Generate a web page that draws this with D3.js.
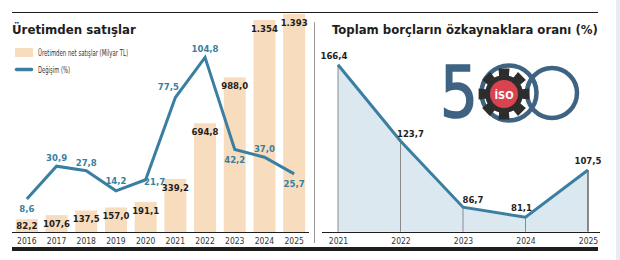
<!DOCTYPE html>
<html><head><meta charset="utf-8">
<script src="https://cdn.jsdelivr.net/npm/d3@7"></script>
<style>
html,body{margin:0;padding:0;background:#fff;}
svg{display:block;}
text{font-family:"Liberation Sans Narrow","DejaVu Sans Condensed",sans-serif;}
</style></head>
<body>
<svg id="chart" width="620" height="260"></svg>
<script>
// ---- Data ----
const years = ["2016","2017","2018","2019","2020","2021","2022","2023","2024","2025"];
const salesValues = [82.2,107.6,137.5,157.0,191.1,339.2,694.8,988.0,1354,1393];
const salesLabels = ["82,2","107,6","137,5","157,0","191,1","339,2","694,8","988,0","1.354","1.393"];
const changeValues = [8.6,30.9,27.8,14.2,21.7,77.5,104.8,42.2,37.0,25.7];
const changeLabels = ["8,6","30,9","27,8","14,2","21,7","77,5","104,8","42,2","37,0","25,7"];
const changeLabelPlace = ["below","above","above","aboveHigh","right","left","above","below","above","below"];

const ratioYears = ["2021","2022","2023","2024","2025"];
const ratioValues = [166.4,123.7,86.7,81.1,107.5];
const ratioLabels = ["166,4","123,7","86,7","81,1","107,5"];
const ratioLabelPlace = ["aboveLeft","right","right","aboveLeft","above"];

const title1 = "Üretimden satışlar";
const title2 = "Toplam borçların özkaynaklara oranı (%)";
const legend1 = "Üretimden net satışlar (Milyar TL)";
const legend2 = "Değişim (%)";

// ---- Styles ----
const BAR = "#f8dcbe", LINE = "#3a7fa1", AREA = "#dce8f0", DARK = "#1e1e1e";

const svg = d3.select("#chart");

// fit a text's font size so its natural width matches a target width
function fitWidth(sel, target, maxSize){
  const n = sel.node();
  const w = n.getComputedTextLength();
  const fs = parseFloat(sel.attr("font-size"));
  sel.attr("font-size", Math.min(maxSize, fs*target/w));
}

// frame
svg.append("rect").attr("x",616).attr("y",0).attr("width",4).attr("height",260).attr("fill","#e6edf3");
svg.append("line").attr("x1",12).attr("x2",598).attr("y1",12.5).attr("y2",12.5).attr("stroke",DARK).attr("stroke-width",1);
svg.append("rect").attr("x",12).attr("y",247).attr("width",586).attr("height",4).attr("fill",DARK);
svg.append("line").attr("x1",314.5).attr("x2",314.5).attr("y1",22).attr("y2",243).attr("stroke","#9a9a9a").attr("stroke-width",1);

// titles
const t1 = svg.append("text").attr("x",12).attr("y",34).attr("font-size",16).attr("font-weight","bold").attr("fill",DARK).text(title1);
fitWidth(t1,124,17);
const t2 = svg.append("text").attr("x",332).attr("y",33.5).attr("font-size",15).attr("font-weight","bold").attr("fill",DARK).text(title2);
fitWidth(t2,266,16);

// ---- Left chart ----
const x = d3.scaleBand().domain(years).range([12,309]).paddingInner(0.26).paddingOuter(0.13);
const yBar = d3.scaleLinear().domain([0,1400]).range([232,12.9]);
const yLine = d3.scaleLinear().domain([0,120]).range([211.7,35]);

svg.append("g").selectAll("rect").data(years).join("rect")
  .attr("x",d=>x(d)).attr("width",x.bandwidth())
  .attr("y",(d,i)=>yBar(salesValues[i])).attr("height",(d,i)=>yBar(0)-yBar(salesValues[i]))
  .attr("fill",BAR);

svg.append("g").selectAll("text").data(years).join("text")
  .attr("x",d=>x(d)+x.bandwidth()/2)
  .attr("y",(d,i)=>Math.min(yBar(salesValues[i])+12,228.5))
  .attr("text-anchor","middle").attr("font-size",9.5).attr("font-weight","bold").attr("fill",DARK)
  .text((d,i)=>salesLabels[i]);

const xAxis = svg.append("g").attr("transform","translate(0,232)")
  .call(d3.axisBottom(x).tickSize(0).tickPadding(6));
xAxis.select(".domain").attr("stroke",DARK).attr("stroke-width",1.2).attr("d","M12,0.5H309");
xAxis.selectAll("text").attr("font-size",8.5).attr("fill","#333")
  .attr("font-family","'Liberation Sans Narrow',sans-serif");

const cx = d => x(d)+x.bandwidth()/2;
const line = d3.line().x((d,i)=>cx(years[i])).y(d=>yLine(d));
svg.append("path").datum(changeValues).attr("d",line)
  .attr("fill","none").attr("stroke",LINE).attr("stroke-width",3).attr("stroke-linejoin","miter");

const off = {below:[0,13],above:[0,-5],aboveHigh:[0,-7],right:[9,5],left:[-7,-8]};
svg.append("g").selectAll("text").data(changeValues).join("text")
  .attr("x",(d,i)=>cx(years[i])+off[changeLabelPlace[i]][0])
  .attr("y",(d,i)=>yLine(d)+off[changeLabelPlace[i]][1])
  .attr("text-anchor","middle").attr("font-size",9.5).attr("font-weight","bold").attr("fill",LINE)
  .text((d,i)=>changeLabels[i]);

// legend
svg.append("rect").attr("x",15).attr("y",48).attr("width",18).attr("height",9).attr("fill",BAR);
svg.append("text").attr("x",38).attr("y",56).attr("font-size",8.5).attr("fill","#333")
  .attr("textLength",90).attr("lengthAdjust","spacingAndGlyphs").text(legend1);
svg.append("line").attr("x1",16.5).attr("x2",31.5).attr("y1",69.5).attr("y2",69.5)
  .attr("stroke",LINE).attr("stroke-width",3.5).attr("stroke-linecap","round");
svg.append("text").attr("x",38).attr("y",73).attr("font-size",8.5).attr("fill","#333")
  .attr("textLength",32).attr("lengthAdjust","spacingAndGlyphs").text(legend2);

// ---- Right chart ----
const x2 = d3.scalePoint().domain(ratioYears).range([338,588]);
const y2 = d3.scaleLinear().domain([73,170]).range([231.7,58.3]);

const area = d3.area().x((d,i)=>x2(ratioYears[i])).y0(y2(73)).y1(d=>y2(d));
svg.append("path").datum(ratioValues).attr("d",area).attr("fill",AREA);

svg.append("g").selectAll("line").data(ratioValues).join("line")
  .attr("x1",(d,i)=>x2(ratioYears[i])).attr("x2",(d,i)=>x2(ratioYears[i]))
  .attr("y1",d=>y2(d)).attr("y2",y2(73))
  .attr("stroke",(d,i)=>i===ratioValues.length-1?DARK:"#8a8a8a").attr("stroke-width",1);

// logo (decorative)
const logo = svg.append("g");
const BLUE = "#3f6383";
logo.append("circle").attr("cx",509).attr("cy",93).attr("r",27.5).attr("fill","none").attr("stroke",BLUE).attr("stroke-width",4.5);
logo.append("circle").attr("cx",552).attr("cy",93).attr("r",25).attr("fill","none").attr("stroke",BLUE).attr("stroke-width",4.5);
logo.append("text").attr("transform","translate(440,117) scale(0.92,1)").attr("font-family","Lato").attr("font-weight",400)
  .attr("font-size",72).attr("fill",BLUE).attr("stroke",BLUE).attr("stroke-width",1.6).text("5");
const teeth = 8, rIn = 19, rOut = 26, gcx = 504, gcy = 94;
const gearPts = [];
for (let k=0;k<teeth;k++){
  const a0 = k*2*Math.PI/teeth;
  const w = Math.PI/teeth*0.55;
  gearPts.push([a0-w*1.2,rIn],[a0-w,rOut],[a0+w,rOut],[a0+w*1.2,rIn],[a0+Math.PI/teeth,rIn]);
}
const gearPath = d3.lineRadial().angle(d=>d[0]).radius(d=>d[1]).curve(d3.curveLinearClosed);
logo.append("path").attr("transform",`translate(${gcx},${gcy})`).attr("d",gearPath(gearPts)).attr("fill","#2d2d2d");
logo.append("circle").attr("cx",gcx).attr("cy",gcy).attr("r",14).attr("fill","#d8434f");
logo.append("text").attr("x",gcx).attr("y",gcy+5).attr("text-anchor","middle").attr("font-family","'DejaVu Sans'")
  .attr("font-weight","bold").attr("font-size",11).attr("fill","#fff").text("İSO");

const line2 = d3.line().x((d,i)=>x2(ratioYears[i])).y(d=>y2(d));
svg.append("path").datum(ratioValues).attr("d",line2)
  .attr("fill","none").attr("stroke",LINE).attr("stroke-width",3);

const xAxis2 = svg.append("g").attr("transform","translate(0,232)")
  .call(d3.axisBottom(x2).tickSize(0).tickPadding(6));
xAxis2.select(".domain").attr("stroke",DARK).attr("stroke-width",1.2).attr("d","M322,0.5H600");
xAxis2.selectAll("text").attr("font-size",8.5).attr("fill","#333")
  .attr("font-family","'Liberation Sans Narrow',sans-serif");

const off2 = {aboveLeft:[-4,-6],right:[10,-4],above:[0,-6]};
svg.append("g").selectAll("text").data(ratioValues).join("text")
  .attr("x",(d,i)=>x2(ratioYears[i])+off2[ratioLabelPlace[i]][0])
  .attr("y",(d,i)=>y2(d)+off2[ratioLabelPlace[i]][1])
  .attr("text-anchor","middle").attr("font-size",9.5).attr("font-weight","bold").attr("fill",DARK)
  .text((d,i)=>ratioLabels[i]);
</script>
</body></html>
